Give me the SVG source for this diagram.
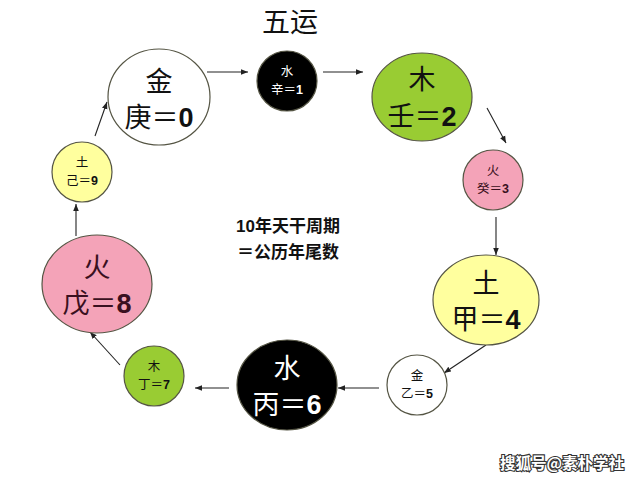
<svg xmlns="http://www.w3.org/2000/svg" width="640" height="480" viewBox="0 0 640 480">
<style>
.c{stroke:#555544;stroke-width:1.2}
.w{fill:#ffffff}.k{fill:#000000}.g{fill:#99cc33}.p{fill:#f4a3b8}.y{fill:#ffff9e}
.t{font-family:"Noto Sans CJK SC","Liberation Sans",sans-serif;text-anchor:middle;fill:#111}
.L{font-size:27px}.S{font-size:12.5px}
.n{font-family:"Liberation Sans",Arial,sans-serif;font-weight:bold}
.inv{fill:#ffffff}
.pk{fill:#3a1020}
.ln{stroke:#222;stroke-width:1.1;fill:none;marker-end:url(#ah)}
</style>
<defs>
<marker id="ah" viewBox="0 0 10 10" refX="10" refY="5" markerWidth="7" markerHeight="7" orient="auto" markerUnits="userSpaceOnUse">
<path d="M0,1 L10,5 L0,9 z" fill="#222"/>
</marker>
</defs>
<rect width="640" height="480" fill="#ffffff"/>
<text x="290" y="32" class="t" style="font-size:28px">五运</text>
<g id="edges">
<line class="ln" x1="207" y1="72" x2="248" y2="72"/>
<line class="ln" x1="323" y1="72" x2="363" y2="72"/>
<line class="ln" x1="487" y1="108" x2="506" y2="143"/>
<line class="ln" x1="496" y1="217" x2="496" y2="255"/>
<line class="ln" x1="486" y1="345" x2="444" y2="373"/>
<line class="ln" x1="379" y1="388" x2="338" y2="388"/>
<line class="ln" x1="229" y1="388" x2="195" y2="388"/>
<line class="ln" x1="120" y1="365" x2="90" y2="332"/>
<line class="ln" x1="76" y1="236" x2="76" y2="204"/>
<line class="ln" x1="95" y1="136" x2="107" y2="102"/>
</g>
<g id="n0"><ellipse class="c w" cx="159" cy="97" rx="51" ry="48"/>
<text class="t L" x="159" y="91">金</text><text class="t L" x="159" y="127">庚＝<tspan class="n">0</tspan></text></g>
<g id="n1"><circle class="c k" cx="287" cy="81" r="30"/>
<text class="t S inv" x="287" y="76">水</text><text class="t S inv" x="287" y="94">辛＝<tspan class="n">1</tspan></text></g>
<g id="n2"><ellipse class="c g" cx="422" cy="97" rx="50" ry="44"/>
<text class="t L" x="422" y="89">木</text><text class="t L" x="422" y="126">壬＝<tspan class="n">2</tspan></text></g>
<g id="n3"><circle class="c p" cx="493" cy="180" r="30"/>
<text class="t S pk" x="493" y="175">火</text><text class="t S pk" x="493" y="193">癸＝<tspan class="n">3</tspan></text></g>
<g id="n4"><ellipse class="c y" cx="486" cy="300" rx="53" ry="45"/>
<text class="t L" x="486" y="293">土</text><text class="t L" x="486" y="329">甲＝<tspan class="n">4</tspan></text></g>
<g id="n5"><circle class="c w" cx="417" cy="385" r="30"/>
<text class="t S" x="417" y="380">金</text><text class="t S" x="417" y="398">乙＝<tspan class="n">5</tspan></text></g>
<g id="n6"><ellipse class="c k" cx="287" cy="385" rx="50" ry="45"/>
<text class="t L inv" x="287" y="378">水</text><text class="t L inv" x="287" y="414">丙＝<tspan class="n">6</tspan></text></g>
<g id="n7"><circle class="c g" cx="154" cy="376" r="30"/>
<text class="t S" x="154" y="371">木</text><text class="t S" x="154" y="389">丁＝<tspan class="n">7</tspan></text></g>
<g id="n8"><ellipse class="c p" cx="97" cy="284" rx="55" ry="49"/>
<text class="t L pk" x="97" y="277">火</text><text class="t L pk" x="97" y="313">戊＝<tspan class="n">8</tspan></text></g>
<g id="n9"><circle class="c y" cx="82" cy="172" r="30"/>
<text class="t S" x="82" y="167">土</text><text class="t S" x="82" y="185">己＝<tspan class="n">9</tspan></text></g>
<g id="note">
<text class="t" x="288" y="232" style="font-size:17px;font-weight:bold"><tspan class="n">10</tspan>年天干周期</text>
<text class="t" x="288" y="258" style="font-size:17px;font-weight:bold">＝公历年尾数</text>
</g>
<text x="562" y="469" class="t" style="font-size:15.5px;fill:#ffffff;stroke:#333;stroke-width:2.2;paint-order:stroke;font-weight:bold">搜狐号@素朴学社</text>
</svg>
